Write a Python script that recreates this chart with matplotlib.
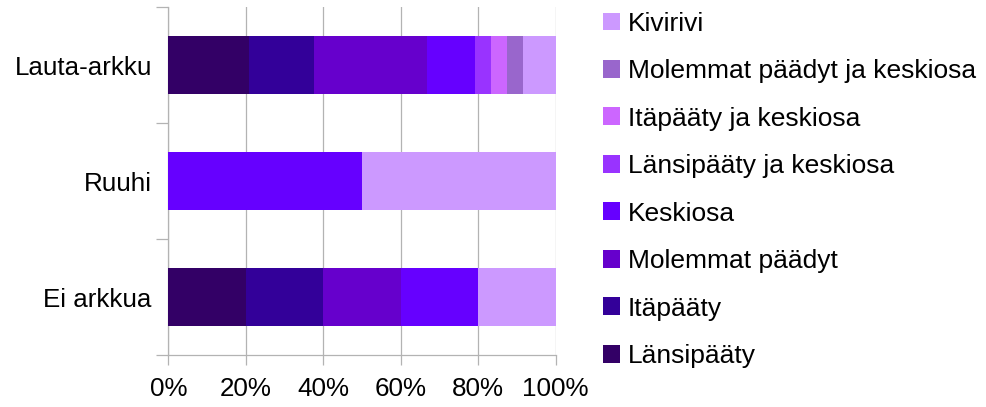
import matplotlib
matplotlib.use('Agg')
import matplotlib.pyplot as plt
import numpy as np

plt.rcParams['font.family'] = ['Liberation Sans', 'DejaVu Sans']

# Categories (bottom to top) and series counts
categories = ['Ei arkkua', 'Ruuhi', 'Lauta-arkku']
series_names = ['Länsipääty', 'Itäpääty', 'Molemmat päädyt', 'Keskiosa',
                'Länsipääty ja keskiosa', 'Itäpääty ja keskiosa',
                'Molemmat päädyt ja keskiosa', 'Kivirivi']
lansipaaty = [1, 0, 5]
itapaaty = [1, 0, 4]
molemmat = [1, 0, 7]
keskiosa = [1, 1, 3]
lansi_keski = [0, 0, 1]
ita_keski = [0, 0, 1]
molemmat_keski = [0, 0, 1]
kivirivi = [1, 1, 2]
colors = ['#330066', '#330099', '#6600CC', '#6600FF',
          '#9933FF', '#CC66FF', '#9966CC', '#CC99FF']

data = np.array([lansipaaty, itapaaty, molemmat, keskiosa,
                 lansi_keski, ita_keski, molemmat_keski, kivirivi], dtype=float)
pct = data / data.sum(axis=0) * 100

fig = plt.figure(figsize=(9.87, 4.07), dpi=100)
fig.patch.set_facecolor('white')
ax = fig.add_axes([0.1707, 0.1278, 0.3923, 0.8538])

grid_col = '#b3b3b3'
y = np.arange(len(categories))
left = np.zeros(len(categories))
handles = []
for name, vals, col in zip(series_names, pct, colors):
    h = ax.barh(y, vals, left=left, height=0.5, color=col, label=name, zorder=3)
    handles.append(h)
    left += vals

ax.set_xlim(0, 100)
ax.set_ylim(-0.5, 2.5)
ax.set_xticks(np.arange(0, 101, 20))
ax.set_xticklabels([f'{v}%' for v in range(0, 101, 20)])
ax.set_yticks(y)
ax.set_yticklabels(categories)
ax.set_yticks([-0.5, 0.5, 1.5, 2.5], minor=True)

ax.grid(axis='x', color=grid_col, linewidth=0.9, zorder=0)
ax.tick_params(axis='x', length=7, width=0.9, color=grid_col, labelsize=18.7, pad=9)
ax.tick_params(axis='y', which='major', length=0, labelsize=18.7, pad=12)
ax.tick_params(axis='y', which='minor', length=9, width=0.9, color=grid_col)

for s in ['top', 'right']:
    ax.spines[s].set_visible(False)
for s in ['left', 'bottom']:
    ax.spines[s].set_color(grid_col)
    ax.spines[s].set_linewidth(0.9)

leg = fig.legend(handles[::-1], series_names[::-1], loc='upper left',
                 bbox_to_anchor=(0.608, 0.978), frameon=False, fontsize=19,
                 handlelength=0.65, handleheight=0.65, handletextpad=0.3,
                 labelspacing=0.89, borderaxespad=0.0, borderpad=0.1)

fig.savefig('out.png', dpi=100, facecolor='white')
